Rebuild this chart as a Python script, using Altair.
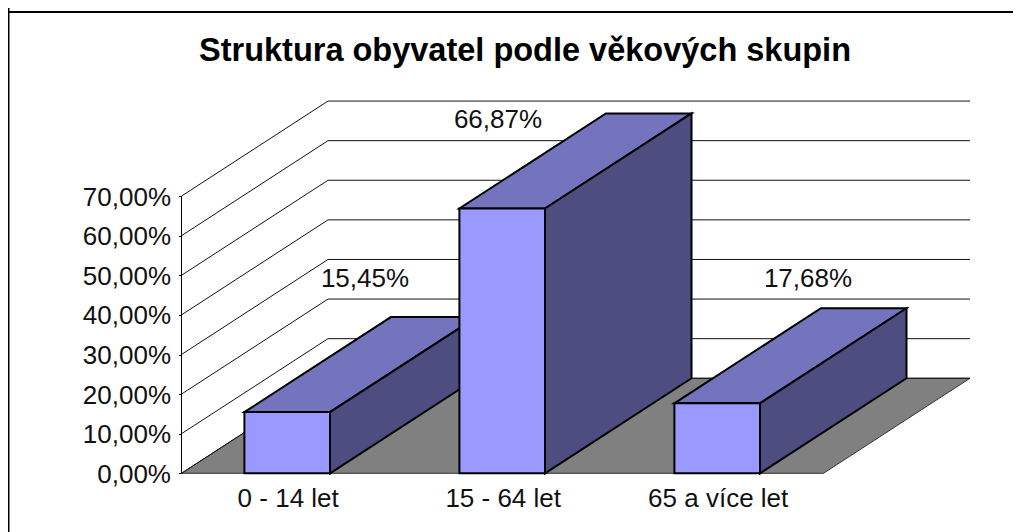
import altair as alt
import pandas as pd

# --- data
categories = ["0 - 14 let", "15 - 64 let", "65 a více let"]
values = [15.45, 66.87, 17.68]
ticks = [0, 10, 20, 30, 40, 50, 60, 70]
title = "Struktura obyvatel podle věkových skupin"

# --- layout (chart pixels; page margin is 8)
W, H = 1005, 524
PX_PER_PCT = 3.96
Y0 = 465.3            # pixel of 0 %
X0 = 173.5            # pixel of the value axis
DEPTH_X = 146.5
DEPTH_Y = 24.0        # in percent units
FLOOR_W = 642.0
CENTER0, STEP, BAR_W = 279.2, 215.0, 85.6
LABEL_POS = [(357, 133), (490, 88), (800, 124)]   # label x, height above bar front top (px)
FONT = "Liberation Sans"
FS = 26

xs = alt.Scale(domain=[0, W], range=[0, W], nice=False, zero=False)
ys = alt.Scale(domain=[-(H - Y0) / PX_PER_PCT, Y0 / PX_PER_PCT], range=[H, 0], nice=False, zero=False)
X = alt.X("x:Q", scale=xs, axis=None)
y_axis = alt.Axis(
    values=ticks, grid=False, domain=False, title=None, offset=-X0,
    tickColor="black", tickSize=3, tickWidth=1, labelPadding=8, labelOffset=1,
    labelFont=FONT, labelFontSize=FS, labelColor="#111111",
    labelExpr="replace(format(datum.value,'.2f'),'.',',')+'%'",
)
Y = alt.Y("y:Q", scale=ys, axis=y_axis)


def P(x, v, d=0.0):
    """3-D point -> plotted x / percent."""
    return {"x": x + d * DEPTH_X, "y": v + d * DEPTH_Y}


def poly(points, fill, stroke, sw):
    df = pd.DataFrame(points)
    df["o"] = range(len(df))
    return alt.Chart(df).mark_line(
        interpolate="linear-closed", fill=fill, stroke=stroke, strokeWidth=sw, strokeJoin="miter"
    ).encode(x=X, y=Y, order="o:O")


layers = []

# value axis line at the wall's front edge
axis_df = pd.DataFrame({"x": [X0, X0], "y": [0, ticks[-1]]})
layers.append(alt.Chart(axis_df).mark_line(color="black", strokeWidth=1).encode(x=X, y=Y))

# floor
layers.append(poly([P(X0, 0), P(X0 + FLOOR_W, 0), P(X0 + FLOOR_W, 0, 1), P(X0, 0, 1)], "#808080", "#333333", 1))

# gridlines on side and back wall
grid = []
for t in ticks:
    for k, p in enumerate([P(X0, t), P(X0, t, 1), P(X0 + FLOOR_W, t, 1)]):
        grid.append({**p, "t": t, "o": k})
layers.append(
    alt.Chart(pd.DataFrame(grid)).mark_line(color="#111111", strokeWidth=1).encode(
        x=X, y=Y, detail="t:N", order="o:O"
    )
)

# bars
for i, v in enumerate(values):
    c = CENTER0 + STEP * i
    l, r = c - BAR_W / 2, c + BAR_W / 2
    layers.append(poly([P(l, v), P(r, v), P(r, v, 1), P(l, v, 1)], "#7474BE", "black", 2))
    layers.append(poly([P(r, 0), P(r, 0, 1), P(r, v, 1), P(r, v)], "#4D4D80", "black", 2))
    layers.append(poly([P(l, 0), P(r, 0), P(r, v), P(l, v)], "#9999FF", "black", 2))

# category labels
cat_df = pd.DataFrame({
    "x": [CENTER0 + STEP * i + 1 for i in range(3)],
    "y": [-26 / PX_PER_PCT] * 3,
    "t": categories,
})
layers.append(alt.Chart(cat_df).mark_text(font=FONT, fontSize=FS, color="#111111", baseline="middle").encode(x=X, y=Y, text="t:N"))

# data labels
lab_df = pd.DataFrame({
    "x": [p[0] for p in LABEL_POS],
    "y": [v + p[1] / PX_PER_PCT for v, p in zip(values, LABEL_POS)],
    "t": [f"{v:.2f}%".replace(".", ",") for v in values],
})
layers.append(alt.Chart(lab_df).mark_text(font=FONT, fontSize=FS, color="#111111", baseline="middle").encode(x=X, y=Y, text="t:N"))

# picture frame: only the top and left edges show
layers.append(alt.Chart(pd.DataFrame({"a": [0]})).mark_rule(color="black", strokeWidth=2).encode(x=alt.value(0.5), y=alt.value(0), y2=alt.value(H)))
layers.append(alt.Chart(pd.DataFrame({"a": [0]})).mark_rule(color="black", strokeWidth=2).encode(y=alt.value(4), x=alt.value(0), x2=alt.value(W)))

chart = alt.layer(*layers).properties(
    width=W, height=H, padding=0,
    autosize=alt.AutoSizeParams(type="none"),
    title=alt.TitleParams(
        title, font=FONT, fontSize=32.5, fontWeight="bold", color="black",
        anchor="start", frame="group", dx=191, dy=76, offset=0, baseline="middle",
    ),
).configure_view(stroke=None)

chart.save("out.html", embed_options={"renderer": "svg", "actions": False})
